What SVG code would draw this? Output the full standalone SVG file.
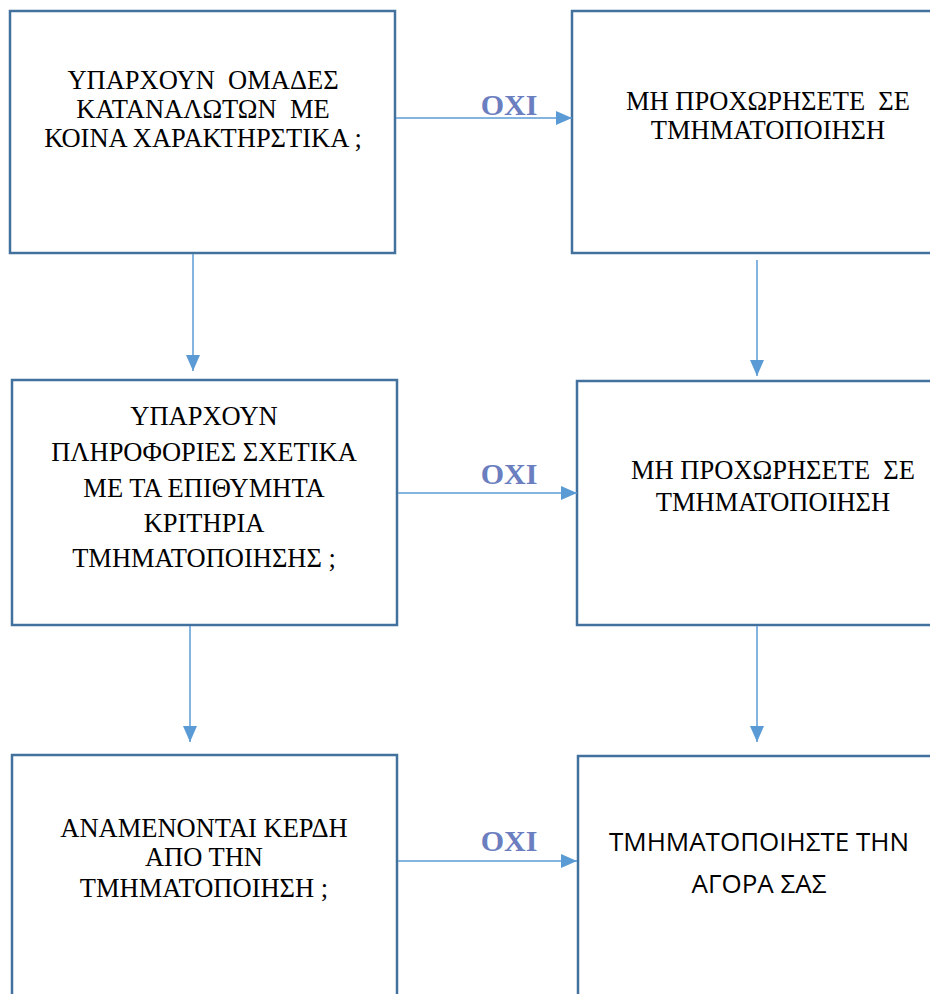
<svg xmlns="http://www.w3.org/2000/svg" width="930" height="994" viewBox="0 0 930 994">
<style>
.box{fill:#fff;stroke:#41719C;stroke-width:2.5}
.t{font-family:"Liberation Serif","Times New Roman",serif;font-size:26.5px;fill:#000;text-anchor:middle;white-space:pre}
.s{font-family:"Open Sans","Liberation Sans",sans-serif;font-size:26px;fill:#000;text-anchor:middle}
.lbl{font-family:"Liberation Serif",serif;font-weight:bold;font-size:30px;fill:#6A7EC0;text-anchor:middle}
.c{stroke:#5B9BD5;stroke-width:1.5;fill:none}
</style>
<defs>
<marker id="ah" markerUnits="userSpaceOnUse" markerWidth="18" markerHeight="14" refX="16" refY="7" orient="auto">
<path d="M0,0 L16,7 L0,14 Z" fill="#5B9BD5"/>
</marker>
</defs>
<rect width="930" height="994" fill="#fff"/>
<g id="n1"><rect class="box" x="10" y="11" width="385" height="242"/>
<text class="t" x="203" y="89" xml:space="preserve">ΥΠΑΡΧΟΥΝ  ΟΜΑΔΕΣ</text>
<text class="t" x="203" y="118" xml:space="preserve">ΚΑΤΑΝΑΛΩΤΩΝ  ΜΕ</text>
<text class="t" x="203" y="147">ΚΟΙΝΑ ΧΑΡΑΚΤΗΡΣΤΙΚΑ ;</text></g>
<g id="n2"><rect class="box" x="572" y="11" width="370" height="242"/>
<text class="t" x="768" y="110" xml:space="preserve">ΜΗ ΠΡΟΧΩΡΗΣΕΤΕ  ΣΕ</text>
<text class="t" x="768" y="139">ΤΜΗΜΑΤΟΠΟΙΗΣΗ</text></g>
<g id="n3"><rect class="box" x="12" y="380" width="385" height="245"/>
<text class="t" x="204" y="425">ΥΠΑΡΧΟΥΝ</text>
<text class="t" x="204" y="461">ΠΛΗΡΟΦΟΡΙΕΣ ΣΧΕΤΙΚΑ</text>
<text class="t" x="204" y="497">ΜΕ ΤΑ ΕΠΙΘΥΜΗΤΑ</text>
<text class="t" x="204" y="532">ΚΡΙΤΗΡΙΑ</text>
<text class="t" x="204" y="567">ΤΜΗΜΑΤΟΠΟΙΗΣΗΣ ;</text></g>
<g id="n4"><rect class="box" x="577" y="381" width="365" height="244"/>
<text class="t" x="773" y="479" xml:space="preserve">ΜΗ ΠΡΟΧΩΡΗΣΕΤΕ  ΣΕ</text>
<text class="t" x="773" y="511">ΤΜΗΜΑΤΟΠΟΙΗΣΗ</text></g>
<g id="n5"><rect class="box" x="12" y="755" width="385" height="260"/>
<text class="t" x="204" y="837">ΑΝΑΜΕΝΟΝΤΑΙ ΚΕΡΔΗ</text>
<text class="t" x="204" y="866">ΑΠΟ ΤΗΝ</text>
<text class="t" x="204" y="897">ΤΜΗΜΑΤΟΠΟΙΗΣΗ ;</text></g>
<g id="n6"><rect class="box" x="578" y="756" width="364" height="260"/>
<text class="s" x="759" y="851">ΤΜΗΜΑΤΟΠΟΙΗΣΤΕ ΤΗΝ</text>
<text class="s" x="759" y="893">ΑΓΟΡΑ ΣΑΣ</text></g>
<g id="connectors">
<line class="c" x1="396" y1="118" x2="572" y2="118" marker-end="url(#ah)"/>
<line class="c" x1="398" y1="493" x2="577" y2="493" marker-end="url(#ah)"/>
<line class="c" x1="398" y1="861" x2="577" y2="861" marker-end="url(#ah)"/>
<line class="c" x1="193" y1="254" x2="193" y2="371" marker-end="url(#ah)"/>
<line class="c" x1="757" y1="260" x2="757" y2="376" marker-end="url(#ah)"/>
<line class="c" x1="190" y1="626" x2="190" y2="742" marker-end="url(#ah)"/>
<line class="c" x1="757" y1="626" x2="757" y2="742" marker-end="url(#ah)"/>
<text class="lbl" x="509" y="115">ΟΧΙ</text>
<text class="lbl" x="509" y="484">ΟΧΙ</text>
<text class="lbl" x="509" y="851">ΟΧΙ</text>
</g>
</svg>
